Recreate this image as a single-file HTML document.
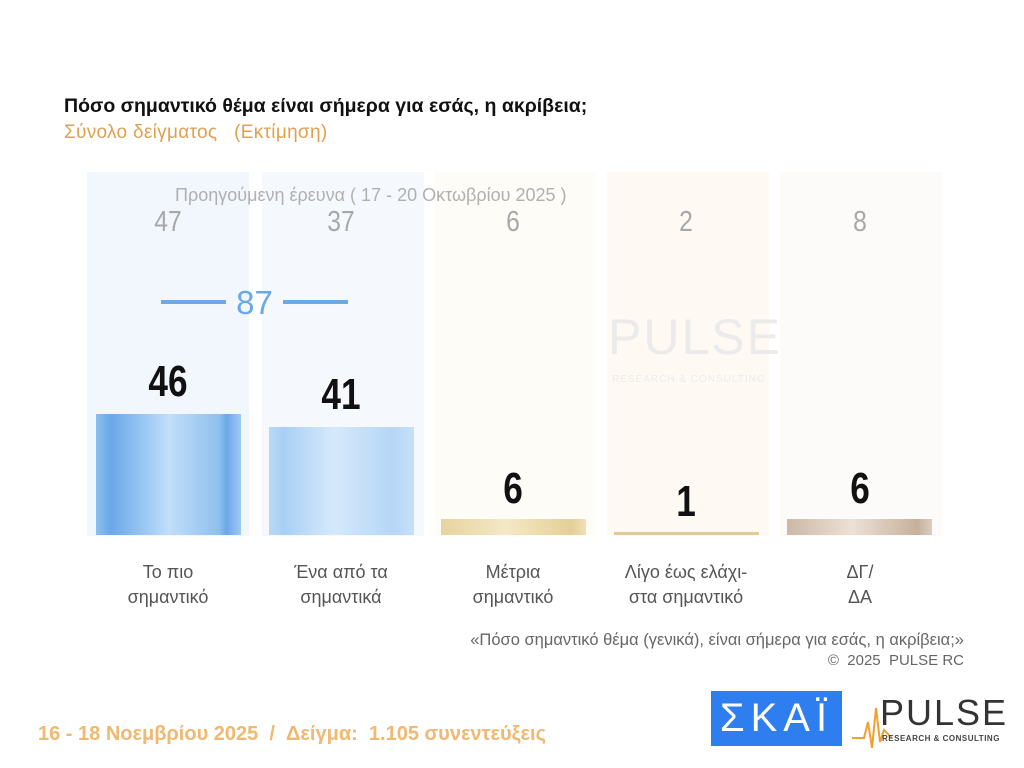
<!DOCTYPE html>
<html><head><meta charset="utf-8"><style>
body{margin:0;width:1024px;height:768px;background:#fff;position:relative;overflow:hidden;font-family:"Liberation Sans","DejaVu Sans",sans-serif}
.a{position:absolute}
.col{position:absolute;top:172px;height:364px;width:162px}
.prev{position:absolute;top:206px;width:162px;text-align:center;font-size:29px;color:#a8a8a8;transform:scaleX(0.85)}
.val{position:absolute;width:162px;text-align:center;font-size:44px;font-weight:bold;color:#111;transform:scaleX(0.8)}
.bar{position:absolute;width:145px}
.lab{position:absolute;top:560px;width:180px;text-align:center;font-size:18px;line-height:25px;color:#555}
</style></head><body>
<div class="a" style="left:64px;top:95px;font-size:19.5px;font-weight:bold;color:#111">Πόσο σημαντικό θέμα είναι σήμερα για εσάς, η ακρίβεια;</div>
<div class="a" style="left:64px;top:122px;font-size:19px;color:#e0a050;letter-spacing:0.3px">Σύνολο δείγματος &nbsp; (Εκτίμηση)</div>

<div class="col" style="left:87px;background:#f1f7fd"></div>
<div class="col" style="left:262px;background:#f5f9fd"></div>
<div class="col" style="left:434px;background:#fefcf7"></div>
<div class="col" style="left:607px;background:#fefaf3"></div>
<div class="col" style="left:780px;background:#fdfbf9"></div>

<div class="a" style="left:175px;top:185px;font-size:18px;color:#b0b0b0">Προηγούμενη έρευνα ( 17 - 20 Οκτωβρίου 2025 )</div>
<div class="prev" style="left:87px">47</div>
<div class="prev" style="left:260px">37</div>
<div class="prev" style="left:432px">6</div>
<div class="prev" style="left:605px">2</div>
<div class="prev" style="left:779px">8</div>

<div class="a" style="left:161px;top:300px;width:65px;height:4px;background:#6aa8e6"></div>
<div class="a" style="left:283px;top:300px;width:65px;height:4px;background:#6aa8e6"></div>
<div class="a" style="left:226px;top:284px;width:57px;text-align:center;font-size:33px;color:#6aa8e6">87</div>

<div class="bar" style="left:96px;top:414px;height:121px;background:linear-gradient(90deg,#8ec0ee 0%,#6aa8e8 10%,#a9d0f6 40%,#c2defa 50%,#8ec0ee 85%,#6aa8e8 90%,#9fc9f2 100%)"></div>
<div class="bar" style="left:269px;top:427px;height:108px;background:linear-gradient(90deg,#b8d9f7 0%,#a8d0f4 10%,#d6e9fb 45%,#b5d6f6 85%,#c7e0f8 100%)"></div>
<div class="bar" style="left:441px;top:519px;height:16px;background:linear-gradient(90deg,#e6d3a0,#f5e8c6 45%,#e4cf96 90%,#efe0b8)"></div>
<div class="bar" style="left:614px;top:532px;height:3px;background:#e2c99a"></div>
<div class="bar" style="left:787px;top:519px;height:16px;background:linear-gradient(90deg,#cbb8a6,#ece1d6 45%,#c6b09c 90%,#dccdc0)"></div>

<div class="val" style="left:87px;top:357px">46</div>
<div class="val" style="left:260px;top:370px">41</div>
<div class="val" style="left:432px;top:464px">6</div>
<div class="val" style="left:605px;top:477px">1</div>
<div class="val" style="left:779px;top:464px">6</div>

<div class="a" style="left:608px;top:308px;font-size:50px;color:#ebebeb;letter-spacing:2px">PULSE</div>
<div class="a" style="left:612px;top:374px;font-size:10px;color:#ebebeb;letter-spacing:1px">RESEARCH &amp; CONSULTING</div>

<div class="lab" style="left:78px">Το πιο<br>σημαντικό</div>
<div class="lab" style="left:251px">Ένα από τα<br>σημαντικά</div>
<div class="lab" style="left:423px">Μέτρια<br>σημαντικό</div>
<div class="lab" style="left:596px">Λίγο έως ελάχι-<br>στα σημαντικό</div>
<div class="lab" style="left:770px">ΔΓ/<br>ΔΑ</div>

<div class="a" style="right:60px;top:631px;font-size:16.5px;color:#666">«Πόσο σημαντικό θέμα (γενικά), είναι σήμερα για εσάς, η ακρίβεια;»</div>
<div class="a" style="right:60px;top:652px;font-size:15px;color:#666">©&nbsp; 2025&nbsp; PULSE RC</div>

<div class="a" style="left:38px;top:723px;font-size:20px;font-weight:bold;color:#f0b870">16 - 18 Νοεμβρίου 2025 &nbsp;/ &nbsp;Δείγμα: &nbsp;1.105 συνεντεύξεις</div>

<div class="a" style="left:711px;top:691px;width:131px;height:55px;background:#2f7ef0;color:#fff;font-size:40px;text-align:center;line-height:55px;letter-spacing:6px">ΣΚΑΪ</div>
<svg class="a" style="left:852px;top:700px" width="40" height="50"><polyline points="0,38 12,38 16,22 20,48 24,8 28,42 32,30 40,38" fill="none" stroke="#f0a030" stroke-width="2"/></svg>
<div class="a" style="left:880px;top:692px;font-size:36px;color:#333;letter-spacing:2px">PULSE</div>
<div class="a" style="left:882px;top:734px;font-size:8px;color:#444;letter-spacing:0.5px;font-weight:bold">RESEARCH &amp; CONSULTING</div>
</body></html>
